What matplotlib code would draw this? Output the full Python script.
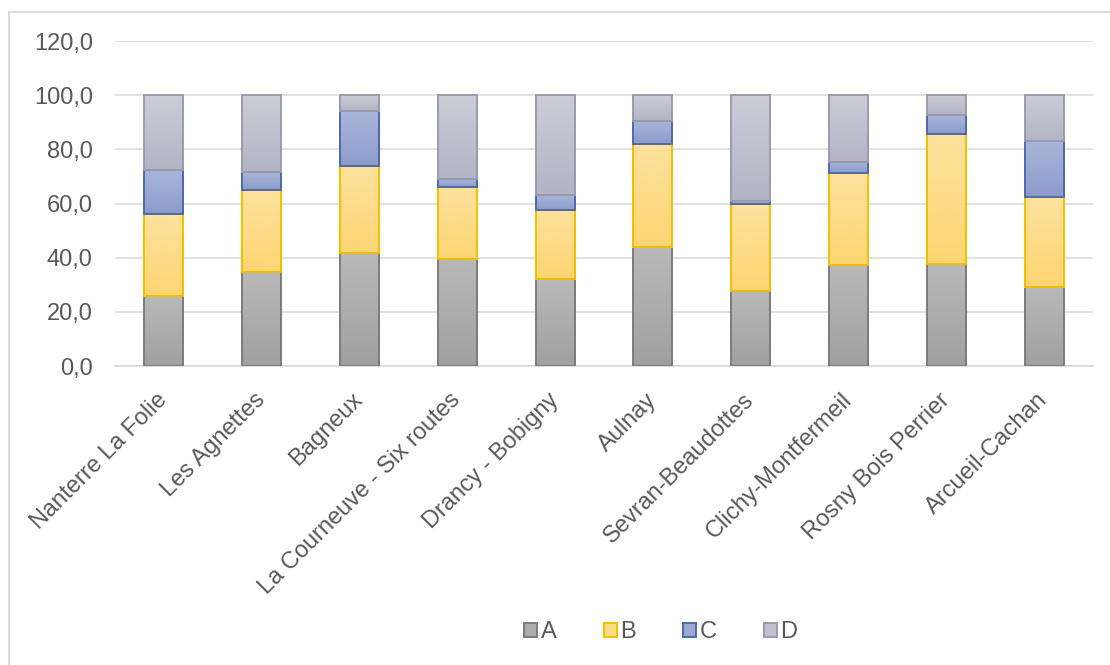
import numpy as np
import matplotlib
matplotlib.use("Agg")
import matplotlib.pyplot as plt
from matplotlib.colors import LinearSegmentedColormap
from matplotlib.patches import Patch
from matplotlib.lines import Line2D

plt.rcParams['font.family'] = ['Liberation Sans', 'DejaVu Sans']

# data (each bar sums to 100)
sites = ["Nanterre La Folie", "Les Agnettes", "Bagneux", "La Courneuve - Six routes",
         "Drancy - Bobigny", "Aulnay", "Sevran-Beaudottes", "Clichy-Montfermeil",
         "Rosny Bois Perrier", "Arcueil-Cachan"]
A = [26.0, 34.6, 41.6, 39.6, 32.0, 44.0, 27.7, 37.2, 37.6, 29.3]
B = [30.2, 30.4, 32.2, 26.6, 25.6, 37.9, 32.0, 33.9, 48.2, 33.2]
C = [16.0, 6.5, 20.3, 2.9, 5.4, 8.5, 1.3, 4.2, 6.8, 20.7]
D = [27.8, 28.5, 5.9, 30.9, 37.0, 9.6, 39.0, 24.7, 7.4, 16.8]
series_names = ["A", "B", "C", "D"]
yticks = [0, 20, 40, 60, 80, 100, 120]

# (bottom colour, top colour, edge colour)
styles = [("#a0a0a0", "#b9b9b9", "#7c7c7c"),
          ("#fdd573", "#fde29d", "#f2c000"),
          ("#8c9bcb", "#a9b6da", "#4e69ad"),
          ("#b3b4c4", "#cdcdd8", "#9b9bad")]

fig = plt.figure(figsize=(11.1, 6.65), dpi=100)
ax = fig.add_axes([115/1110, 1-366/665, (1093-115)/1110, (366-41)/665])

x = np.arange(len(sites))
grad = np.linspace(0, 1, 64).reshape(-1, 1)
bottom = np.zeros(len(sites))
for vals, (c0, c1, ec) in zip([A, B, C, D], styles):
    bars = ax.bar(x, vals, width=0.4, bottom=bottom, facecolor='none',
                  edgecolor=ec, linewidth=1.4, zorder=4)
    cmap = LinearSegmentedColormap.from_list("g", [c0, c1])
    for r in bars:
        x0, y0 = r.get_x(), r.get_y()
        im = ax.imshow(grad, cmap=cmap, origin='lower', aspect='auto',
                       extent=[x0, x0 + r.get_width(), y0, y0 + r.get_height()],
                       zorder=3, interpolation='bilinear')
        im.set_clip_path(r)
    bottom += np.array(vals)

ax.set_xlim(-0.5, len(sites) - 0.5)
ax.set_ylim(0, 120)
ax.set_yticks(yticks)
ax.set_yticklabels([("%.1f" % v).replace('.', ',') for v in yticks])
ax.set_xticks(x)
ax.set_xticklabels(sites, rotation=45, ha='right', va='center', rotation_mode='anchor')
ax.tick_params(axis='both', length=0, labelsize=17, colors='#595959')
ax.tick_params(axis='y', pad=16)
ax.tick_params(axis='x', pad=22)
ax.grid(axis='y', color='#d9d9d9', linewidth=1.1, zorder=0)
ax.set_axisbelow(True)
for s in ['top', 'right', 'left']:
    ax.spines[s].set_visible(False)
ax.spines['bottom'].set_color('#d9d9d9')
ax.spines['bottom'].set_linewidth(1.1)

handles = [Patch(facecolor=matplotlib.colors.to_hex(np.mean([matplotlib.colors.to_rgb(c0),
                                                             matplotlib.colors.to_rgb(c1)], axis=0)),
                 edgecolor=ec, linewidth=1.4) for c0, c1, ec in styles]
fig.legend(handles, series_names, loc='center', bbox_to_anchor=(661/1110, 1-632/665),
           ncol=4, frameon=False, fontsize=17, labelcolor='#595959',
           handlelength=0.55, handleheight=0.55, handletextpad=0.15, columnspacing=2.0)

# outer chart frame (left and top edges visible)
fig.add_artist(Line2D([8.5/1110, 8.5/1110], [0, 1-12/665], color='#d9d9d9', linewidth=1.3))
fig.add_artist(Line2D([8.5/1110, 1], [1-12/665, 1-12/665], color='#d9d9d9', linewidth=1.3))

fig.savefig("out.png", dpi=100)
